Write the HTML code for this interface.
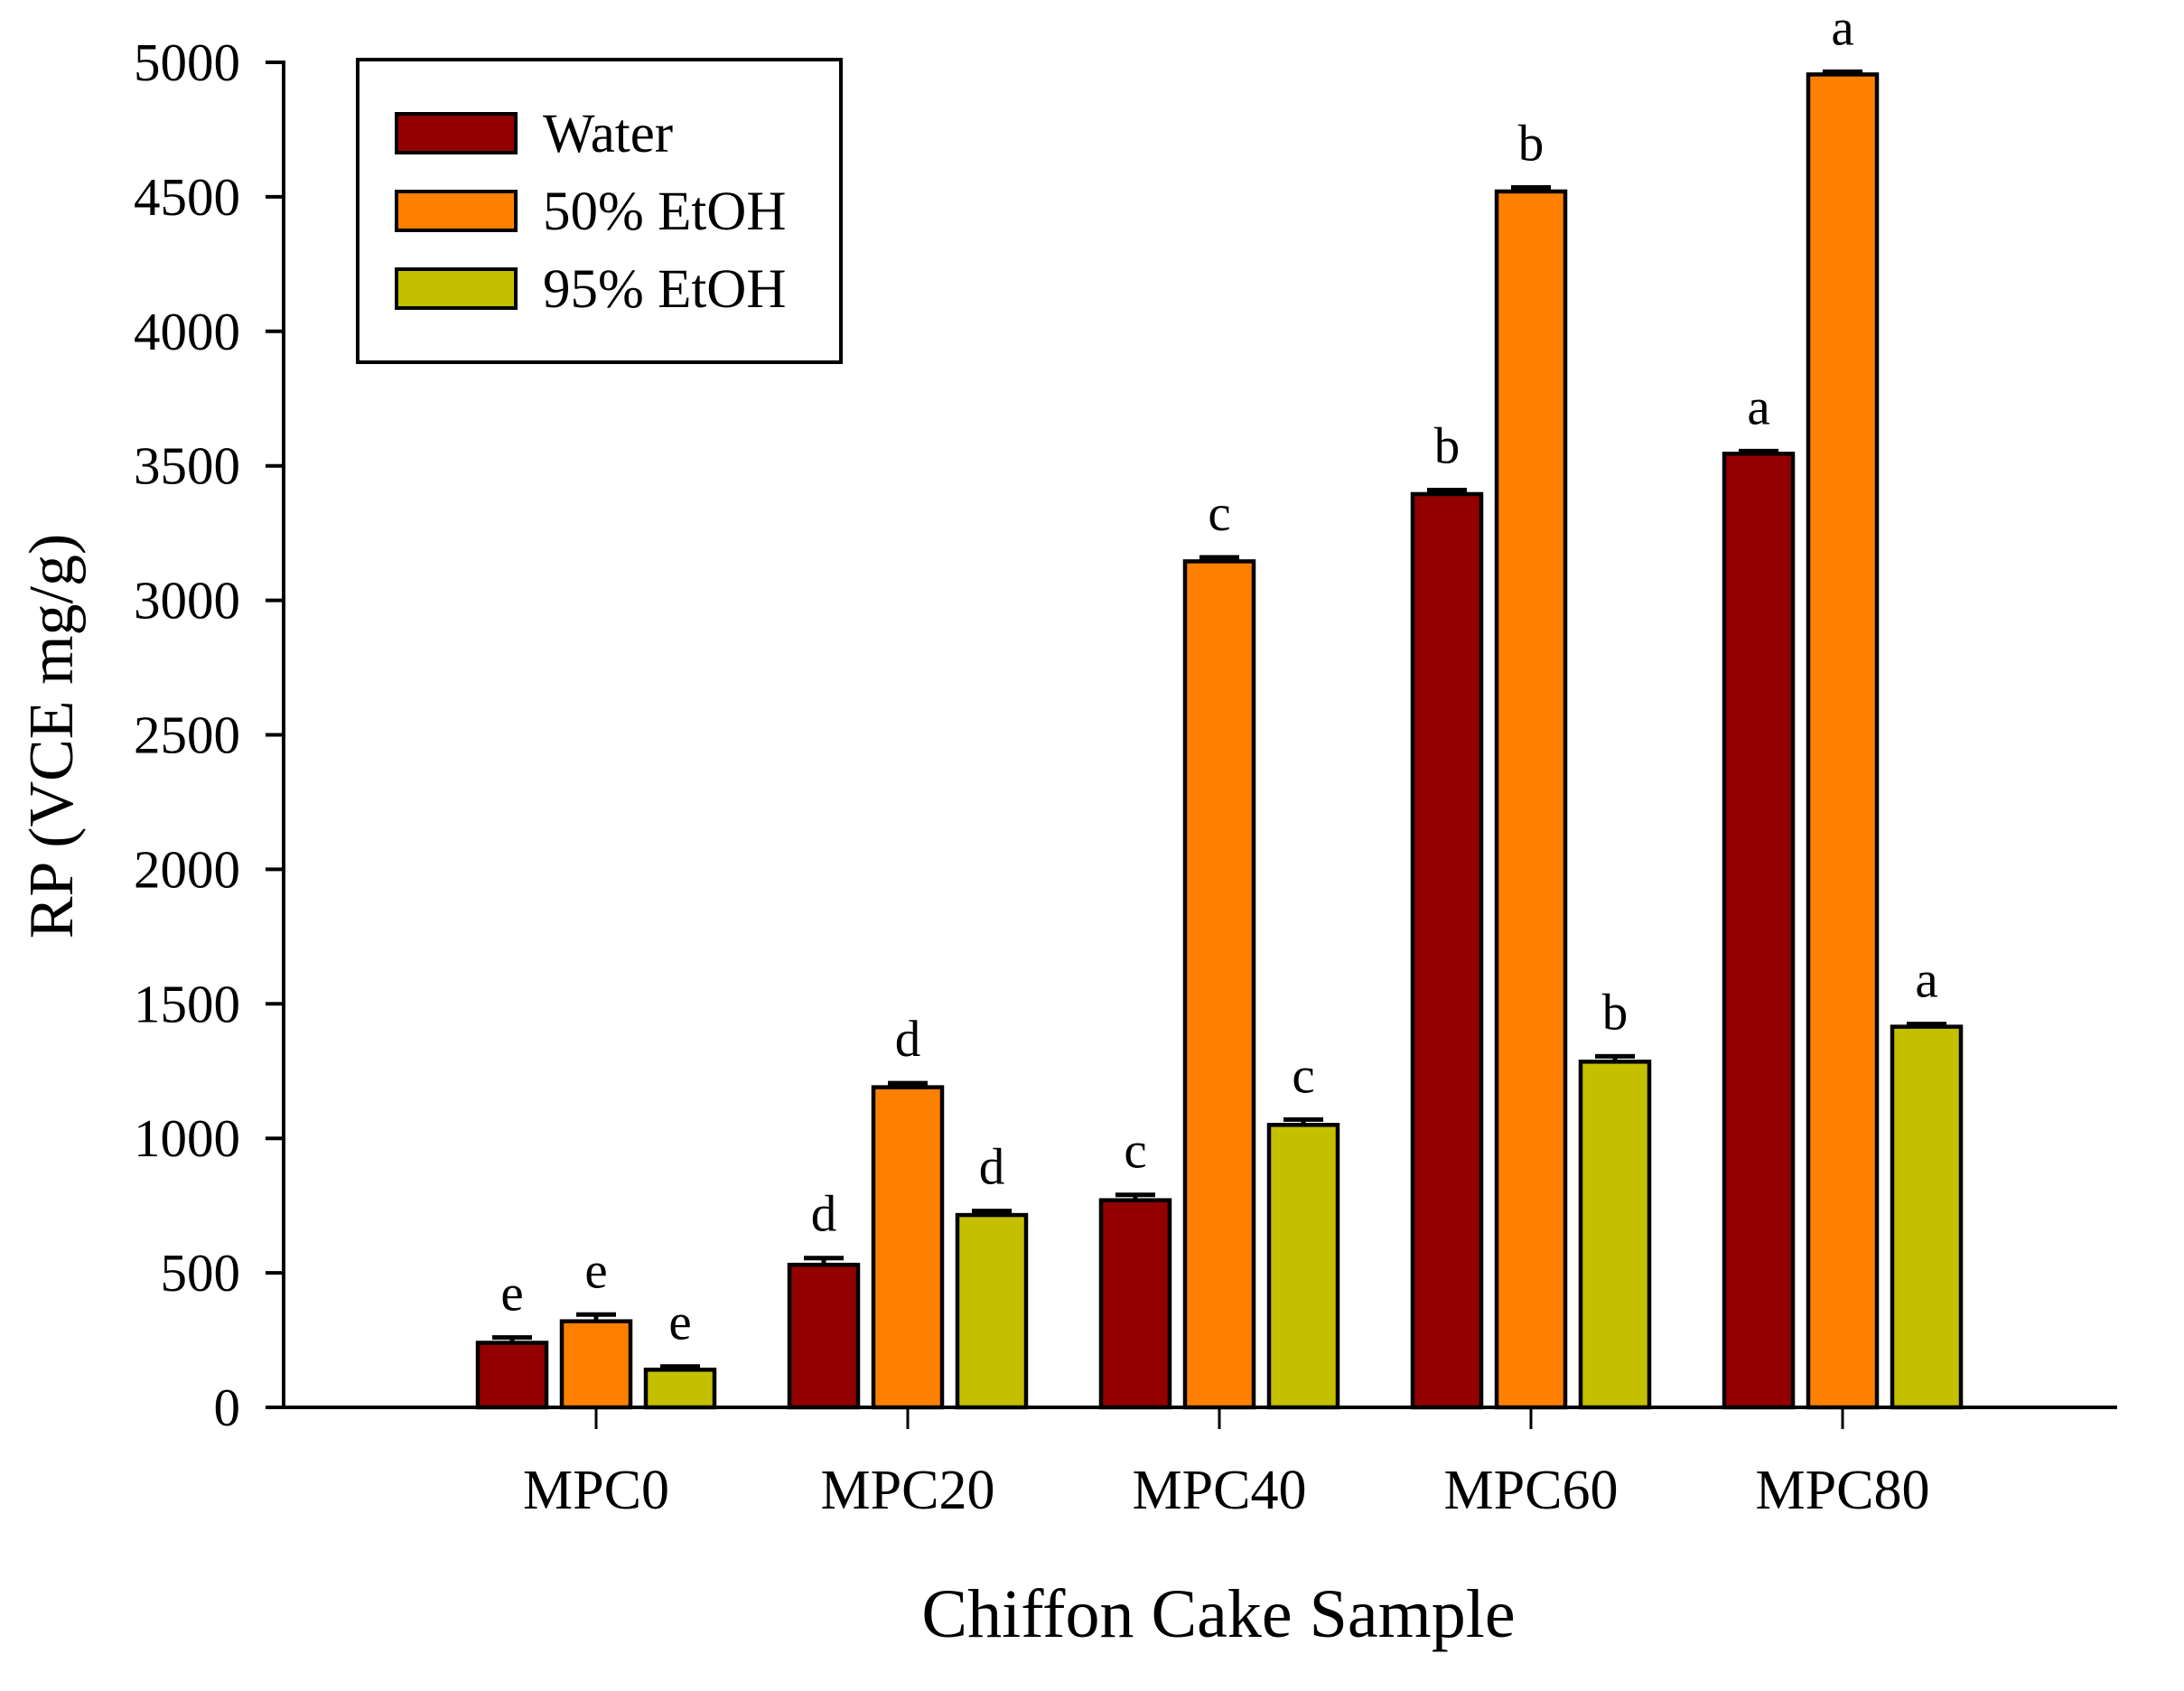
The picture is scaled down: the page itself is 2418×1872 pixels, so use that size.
<!DOCTYPE html>
<html><head><meta charset="utf-8">
<style>
html,body{margin:0;padding:0;background:#fff;}
svg{display:block;}
text{font-family:"Liberation Serif",serif;fill:#000;}
</style></head>
<body>
<svg id="chart" width="2418" height="1872" viewBox="0 0 2418 1872" xmlns="http://www.w3.org/2000/svg">
<g id="bars"></g>
<g id="axes"></g>
<g>
  <rect x="396" y="66" width="535" height="335" fill="#fff" stroke="#000" stroke-width="4"/>
  <g>
    <rect x="439" y="126" width="132" height="43" fill="#930000" stroke="#000" stroke-width="4"/>
    <text x="601" y="168" font-size="61">Water</text>
  </g>
  <g>
    <rect x="439" y="212" width="132" height="43" fill="#ff8000" stroke="#000" stroke-width="4"/>
    <text x="601" y="254" font-size="61">50% EtOH</text>
  </g>
  <g>
    <rect x="439" y="298" width="132" height="43" fill="#c4c000" stroke="#000" stroke-width="4"/>
    <text x="601" y="340" font-size="61">95% EtOH</text>
  </g>
</g>
<text x="1349" y="1812" font-size="76" text-anchor="middle">Chiffon Cake Sample</text>
<text transform="translate(80,815) rotate(-90)" font-size="70" text-anchor="middle">RP (VCE mg/g)</text>
</svg>
<script>
const categories = ["MPC0","MPC20","MPC40","MPC60","MPC80"];
const seriesNames = ["Water","50% EtOH","95% EtOH"];
const waterValues = [240, 530, 770, 3395, 3545];
const ethanol50Values = [320, 1190, 3145, 4520, 4955];
const ethanol95Values = [140, 715, 1050, 1285, 1415];
const waterErrors = [20, 25, 20, 15, 10];
const ethanol50Errors = [25, 15, 15, 15, 10];
const ethanol95Errors = [12, 15, 20, 20, 10];
const waterLetters = ["e","d","c","b","a"];
const ethanol50Letters = ["e","d","c","b","a"];
const ethanol95Letters = ["e","d","c","b","a"];
const yTicks = [0,500,1000,1500,2000,2500,3000,3500,4000,4500,5000];

const NS = "http://www.w3.org/2000/svg";
const X0 = 314, X1 = 2344, Y0 = 1558, YTOP = 69, YMAX = 5000;
const firstCat = 660, catStep = 345, barW = 76, barPitch = 93;
function yScale(v){ return Y0 - (v / YMAX) * (Y0 - YTOP); }
function xCat(i){ return firstCat + i * catStep; }
function mk(tag, attrs, parent){
  const e = document.createElementNS(NS, tag);
  for (const k in attrs) e.setAttribute(k, attrs[k]);
  parent.appendChild(e);
  return e;
}
const barsG = document.getElementById("bars");
const axesG = document.getElementById("axes");
const series = [
  {vals: waterValues, errs: waterErrors, letters: waterLetters, color: "#930000", key: "water"},
  {vals: ethanol50Values, errs: ethanol50Errors, letters: ethanol50Letters, color: "#ff8000", key: "50-etoh"},
  {vals: ethanol95Values, errs: ethanol95Errors, letters: ethanol95Letters, color: "#c4c000", key: "95-etoh"}
];
categories.forEach((c, i) => {
  series.forEach((s, j) => {
    const cx = xCat(i) + (j - 1) * barPitch;
    const v = s.vals[i];
    const yt = yScale(v);
    const ye = yScale(v + s.errs[i]);
    const eb = mk("path", {d: `M${cx} ${yt} L${cx} ${ye} M${cx-22} ${ye} L${cx+22} ${ye}`, stroke: "#000", "stroke-width": 5, fill: "none"}, barsG);
    
    
    const r = mk("rect", {x: cx - barW/2, y: yt, width: barW, height: Y0 - yt, fill: s.color, stroke: "#000", "stroke-width": 4.5}, barsG);
    
    
    const t = mk("text", {x: cx, y: ye - 30, "font-size": 57, "text-anchor": "middle"}, barsG);
    t.textContent = s.letters[i];
    
    
  });
});
const xa = mk("line", {x1: 294, y1: Y0, x2: X1, y2: Y0, stroke: "#000", "stroke-width": 4}, axesG);


const ya = mk("line", {x1: X0, y1: YTOP - 2, x2: X0, y2: Y0 + 2, stroke: "#000", "stroke-width": 4}, axesG);


yTicks.forEach(v => {
  const y = yScale(v);
  const tk = mk("line", {x1: 294, y1: y, x2: X0, y2: y, stroke: "#000", "stroke-width": 4}, axesG);
  
  
  const lb = mk("text", {x: 266, y: y + 20, "font-size": 59, "text-anchor": "end"}, axesG);
  lb.textContent = v;
  
  
});
categories.forEach((c, i) => {
  const x = xCat(i);
  const tk = mk("line", {x1: x, y1: Y0, x2: x, y2: Y0 + 24, stroke: "#000", "stroke-width": 3}, axesG);
  
  
  const lb = mk("text", {x: x, y: 1670, "font-size": 62, "text-anchor": "middle"}, axesG);
  lb.textContent = c;
  
  
});
</script>
</body></html>
